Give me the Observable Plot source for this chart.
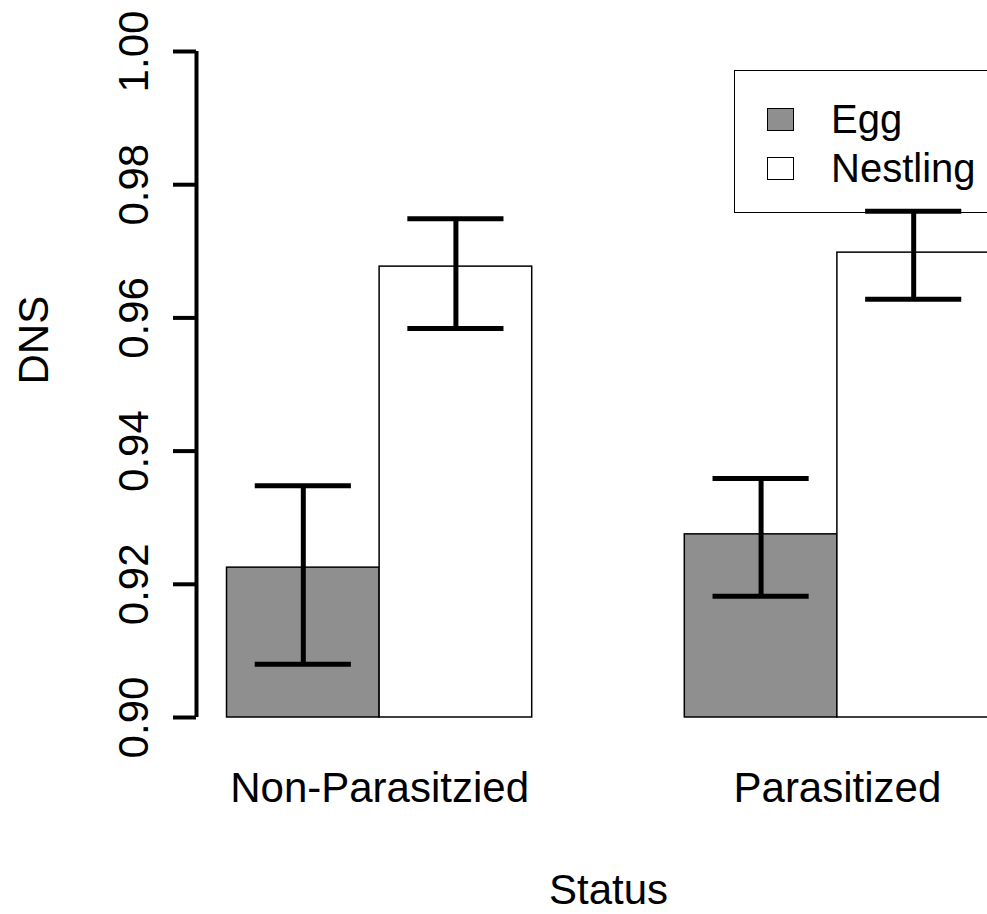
<!DOCTYPE html>
<html>
<head>
<meta charset="utf-8">
<script src="https://cdn.jsdelivr.net/npm/d3@7"></script>
<script src="https://cdn.jsdelivr.net/npm/@observablehq/plot@0.6"></script>
<style>
  html, body { margin: 0; padding: 0; background: #fff; overflow: hidden; }
  #wrap { position: relative; width: 987px; height: 914px; }
  #legend { position: absolute; left: 734px; top: 70px; width: 300px; height: 143px;
            border: 1.5px solid #000; box-sizing: border-box;
            font-family: "Liberation Sans", Arial, sans-serif; font-size: 40px; color: #000; }
  .item { position: absolute; left: 32px; display: flex; align-items: center; height: 30px; }
  .sw { width: 27px; height: 23px; border: 1.5px solid #000; box-sizing: border-box; margin-right: 37px; }
</style>
</head>
<body>
<div id="wrap"></div>
<script>
// ---- data ----
const groups = ["Non-Parasitzied", "Parasitized"];
const series = ["Egg", "Nestling"];
const dnsEgg = [0.9225, 0.9275];
const dnsNestling = [0.9677, 0.9698];
const lowerEgg = [0.9080, 0.9182];
const upperEgg = [0.9348, 0.9359];
const lowerNestling = [0.9584, 0.9628];
const upperNestling = [0.9749, 0.9760];
const yTicks = [0.90, 0.92, 0.94, 0.96, 0.98, 1.00];
const colors = ["#8f8f8f", "#ffffff"];

// ---- table (R barplot beside layout: space = c(0,1)) ----
const values = [dnsEgg, dnsNestling];
const lows = [lowerEgg, lowerNestling];
const highs = [upperEgg, upperNestling];
const rows = [];
groups.forEach((g, gi) => series.forEach((s, si) => {
  const left = 1 + gi * (series.length + 1) + si;
  rows.push({group: g, series: s, x1: left, x2: left + 1, xc: left + 0.5,
             value: values[si][gi], lo: lows[si][gi], hi: highs[si][gi]});
}));
const groupCenters = groups.map((g, gi) => 1 + gi * (series.length + 1) + series.length / 2);
const xMin = 1, xMax = 1 + groups.length * (series.length + 1) - 1;
const pad = (xMax - xMin) * 0.04;
const xDomain = [xMin - pad, xMax + pad];
const yDomain = [yTicks[0], yTicks[yTicks.length - 1]];
const capHalf = 0.315;

const chart = Plot.plot({
  width: 987,
  height: 914,
  marginLeft: 196,
  marginRight: 0,
  marginTop: 51,
  marginBottom: 197,
  style: {fontFamily: "'Liberation Sans', Arial, sans-serif", fontSize: "42px", background: "#fff", color: "#000", overflow: "visible"},
  x: {type: "linear", domain: xDomain, range: [196, 1020]},
  y: {domain: yDomain},
  color: {domain: series, range: colors},
  marks: [
    Plot.rect(rows, {x1: "x1", x2: "x2", y1: yDomain[0], y2: "value", fill: "series", stroke: "#000", strokeWidth: 1.5}),
    Plot.ruleX(rows, {x: "xc", y1: "lo", y2: "hi", stroke: "#000", strokeWidth: 5}),
    Plot.ruleY(rows, {y: "lo", x1: d => d.xc - capHalf, x2: d => d.xc + capHalf, stroke: "#000", strokeWidth: 5}),
    Plot.ruleY(rows, {y: "hi", x1: d => d.xc - capHalf, x2: d => d.xc + capHalf, stroke: "#000", strokeWidth: 5}),
    Plot.ruleX([xDomain[0]], {y1: yDomain[0], y2: yDomain[1], stroke: "#000", strokeWidth: 4}),
    Plot.axisY({ticks: yTicks, tickFormat: d3.format(".2f"), tickRotate: -90, tickSize: 23, tickPadding: 26, fontSize: 42, strokeWidth: 4, label: null}),
    Plot.axisX({ticks: groupCenters, tickFormat: d => groups[groupCenters.indexOf(d)], tickSize: 0, tickPadding: 55, fontSize: 42, label: null}),
    Plot.text(["DNS"], {frameAnchor: "left", text: d => d, rotate: -90, lineAnchor: "bottom", dx: -149, fontSize: 42}),
    Plot.text(["Status"], {x: (xDomain[0] + xDomain[1]) / 2, frameAnchor: "bottom", text: d => d, lineAnchor: "bottom", dy: 186, fontSize: 42})
  ]
});

const wrap = document.getElementById("wrap");
wrap.appendChild(chart);

// legend (R-style box, top right)
const legend = document.createElement("div");
legend.id = "legend";
series.forEach((s, i) => {
  const item = document.createElement("div");
  item.className = "item";
  item.style.top = (33 + i * 49) + "px";
  const sw = document.createElement("div");
  sw.className = "sw";
  sw.style.background = colors[i];
  const label = document.createElement("span");
  label.textContent = s;
  item.appendChild(sw);
  item.appendChild(label);
  legend.appendChild(item);
});
wrap.appendChild(legend);
</script>
</body>
</html>
